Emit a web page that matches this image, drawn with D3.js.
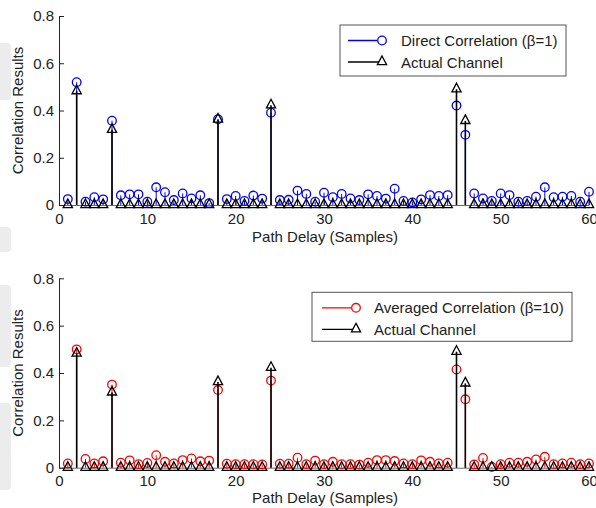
<!DOCTYPE html>
<html>
<head>
<meta charset="utf-8">
<script src="https://cdn.jsdelivr.net/npm/d3@7"></script>
<style>
  body { margin: 0; background: #fff; }
  text { font-family: "Liberation Sans", Arial, sans-serif; font-size: 15px; fill: #222; }
</style>
</head>
<body>
<div id="main"></div>
<script>
// path delays 1..60
const delays = d3.range(1, 61);

// direct correlation (beta = 1)
const directCorr = [0.025, 0.52, 0.014, 0.033, 0.024, 0.357, 0.041, 0.045, 0.045, 0.014,
                    0.075, 0.054, 0.021, 0.049, 0.028, 0.041, 0.008, 0.363, 0.025, 0.038,
                    0.017, 0.040, 0.027, 0.391, 0.021, 0.022, 0.061, 0.047, 0.014, 0.052,
                    0.033, 0.047, 0.028, 0.021, 0.045, 0.038, 0.027, 0.069, 0.017, 0.011,
                    0.024, 0.042, 0.038, 0.042, 0.421, 0.297, 0.049, 0.028, 0.017, 0.049,
                    0.042, 0.014, 0.017, 0.035, 0.075, 0.033, 0.035, 0.038, 0.014, 0.056];

// averaged correlation (beta = 10)
const avgCorr = [0.018, 0.50, 0.037, 0.018, 0.027, 0.351, 0.021, 0.031, 0.015, 0.020,
                 0.053, 0.025, 0.018, 0.032, 0.039, 0.027, 0.030, 0.328, 0.017, 0.015,
                 0.015, 0.015, 0.014, 0.368, 0.017, 0.017, 0.042, 0.015, 0.030, 0.015,
                 0.025, 0.015, 0.015, 0.013, 0.021, 0.032, 0.032, 0.028, 0.018, 0.015,
                 0.031, 0.025, 0.018, 0.021, 0.415, 0.289, 0.014, 0.041, 0.003, 0.015,
                 0.021, 0.021, 0.025, 0.035, 0.046, 0.015, 0.018, 0.021, 0.015, 0.018];

// actual channel taps (zero elsewhere)
const tapDelays = [2, 6, 18, 24, 45, 46];
const tapGains = [0.482, 0.318, 0.362, 0.422, 0.49, 0.356];
const actualChannel = delays.map(d => {
    let i = tapDelays.indexOf(d);
    return i >= 0 ? tapGains[i] : 0;
});

const xTicks = [0, 10, 20, 30, 40, 50, 60];
const yTicks = [0, 0.2, 0.4, 0.6, 0.8];

const ctx = { w: 596, h: 508 };

const panels = [
    { top: 16, bottom: 205, series: directCorr, color: "#0000ff", xLabelDy: 37,
      label: "Direct Correlation (\u03b2=1)",
      legend: { x: 340, y: 25, w: 226, h: 51, lineX: 348, textX: 401 } },
    { top: 278.3, bottom: 467.7, series: avgCorr, color: "#ff0000", xLabelDy: 35,
      label: "Averaged Correlation (\u03b2=10)",
      legend: { x: 312, y: 292.3, w: 260, h: 49, lineX: 322, textX: 374 } }
];

const triPath = "M0,-6L4.6,2.6L-4.6,2.6Z";

function drawPanel(svg, p) {
    let g = svg.append("g");
    let xScale = d3.scaleLinear().domain([0, 60]).range([59, 589]);
    let yScale = d3.scaleLinear().domain([0, 0.8]).range([p.bottom, p.top]);

    // axes (MATLAB style, ticks pointing inward)
    g.append("g")
      .attr("transform", `translate(0,${p.bottom})`)
      .call(d3.axisBottom(xScale).tickValues(xTicks).tickSizeInner(-5).tickSizeOuter(0).tickPadding(8))
      .call(a => a.select(".domain").attr("stroke", "#444").attr("stroke-width", 0.8))
      .call(a => a.selectAll(".tick line").attr("stroke", "#444"));
    g.append("g")
      .attr("transform", `translate(59,0)`)
      .call(d3.axisLeft(yScale).tickValues(yTicks).tickSizeInner(-5).tickSizeOuter(0).tickPadding(5)
              .tickFormat(d => d === 0 ? "0" : d3.format(".1f")(d)))
      .call(a => a.select(".domain").attr("stroke", "#222").attr("stroke-width", 1))
      .call(a => a.selectAll(".tick line").attr("stroke", "#222"));
    g.selectAll(".tick text").attr("font-size", 15).attr("fill", "#222")
      .attr("font-family", "Liberation Sans, Arial, sans-serif");

    // correlation stems
    g.append("g").selectAll("line")
      .data(p.series).join("line")
      .attr("x1", (d, i) => xScale(delays[i])).attr("x2", (d, i) => xScale(delays[i]))
      .attr("y1", yScale(0)).attr("y2", d => yScale(d))
      .attr("stroke", p.color).attr("stroke-width", 1);
    g.append("g").selectAll("circle")
      .data(p.series).join("circle")
      .attr("cx", (d, i) => xScale(delays[i])).attr("cy", d => yScale(d))
      .attr("r", 4.3).attr("fill", "none")
      .attr("stroke", p.color).attr("stroke-width", 1.3);

    // actual channel stems
    g.append("g").selectAll("line")
      .data(actualChannel).join("line")
      .attr("x1", (d, i) => xScale(delays[i])).attr("x2", (d, i) => xScale(delays[i]))
      .attr("y1", yScale(0)).attr("y2", d => yScale(d))
      .attr("stroke", "#000").attr("stroke-width", 1.6);
    g.append("g").selectAll("path")
      .data(actualChannel).join("path")
      .attr("d", triPath)
      .attr("transform", (d, i) => `translate(${xScale(delays[i])},${yScale(d)})`)
      .attr("fill", "none").attr("stroke", "#000").attr("stroke-width", 1.3);

    // axis labels
    g.append("text")
      .attr("x", 325).attr("y", p.bottom + p.xLabelDy)
      .attr("text-anchor", "middle")
      .text("Path Delay (Samples)");
    g.append("text")
      .attr("transform", `translate(23,${(p.top + p.bottom) / 2}) rotate(-90)`)
      .attr("text-anchor", "middle")
      .text("Correlation Results");

    // legend
    let L = p.legend;
    let lg = g.append("g");
    lg.append("rect")
      .attr("x", L.x).attr("y", L.y).attr("width", L.w).attr("height", L.h)
      .attr("fill", "#fff").attr("stroke", "#555").attr("stroke-width", 1);
    let rows = [
        { y: L.y + 15.5, color: p.color, text: p.label, mark: "circle" },
        { y: L.y + 37, color: "#000", text: "Actual Channel", mark: "tri" }
    ];
    rows.forEach(r => {
        lg.append("line")
          .attr("x1", L.lineX).attr("x2", L.lineX + 34)
          .attr("y1", r.y).attr("y2", r.y)
          .attr("stroke", r.color).attr("stroke-width", 1.3);
        if (r.mark === "circle") {
            lg.append("circle").attr("cx", L.lineX + 34).attr("cy", r.y).attr("r", 4.3)
              .attr("fill", "#fff").attr("stroke", r.color).attr("stroke-width", 1.3);
        } else {
            lg.append("path").attr("d", triPath)
              .attr("transform", `translate(${L.lineX + 34},${r.y})`)
              .attr("fill", "#fff").attr("stroke", "#000").attr("stroke-width", 1.3);
        }
        lg.append("text")
          .attr("x", L.textX).attr("y", r.y + 5.5)
          .text(r.text);
    });
}

function createViz() {
    let svgEl = d3.select("#main").append("svg")
      .attr("width", ctx.w).attr("height", ctx.h);
    // faint page-background shapes along the left edge
    const bgBands = [[43, 100], [227, 252], [285, 367], [403, 490]];
    svgEl.append("g").selectAll("rect")
      .data(bgBands).join("rect")
      .attr("x", -4).attr("y", d => d[0]).attr("width", 15).attr("height", d => d[1] - d[0])
      .attr("rx", 4).attr("fill", "#ececec");
    panels.forEach(p => drawPanel(svgEl, p));
}

createViz();
</script>
</body>
</html>
